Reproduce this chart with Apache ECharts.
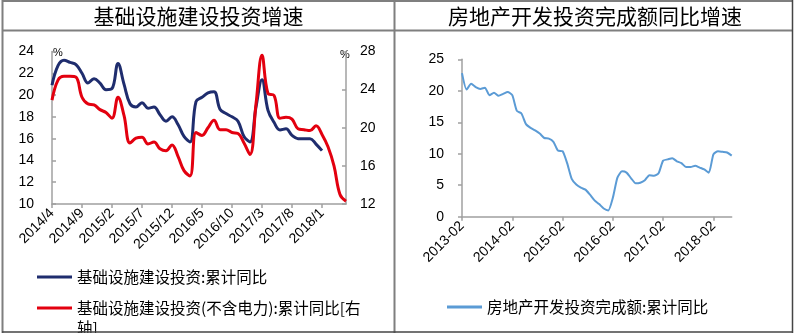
<!DOCTYPE html>
<html><head><meta charset="utf-8">
<script src="https://cdn.jsdelivr.net/npm/echarts@6/dist/echarts.min.js"></script>
<style>html,body{margin:0;padding:0;background:#fff}#c{width:797px;height:335px}</style>
</head><body><div id="c"></div>
<script>
const leftCategories = [
  '2014/4','2014/5','2014/6','2014/7','2014/8','2014/9','2014/10','2014/11','2014/12',
  '2015/1','2015/2','2015/3','2015/4','2015/5','2015/6','2015/7','2015/8','2015/9','2015/10','2015/11','2015/12',
  '2016/1','2016/2','2016/3','2016/4','2016/5','2016/6','2016/7','2016/8','2016/9','2016/10','2016/11','2016/12',
  '2017/1','2017/2','2017/3','2017/4','2017/5','2017/6','2017/7','2017/8','2017/9','2017/10','2017/11','2017/12',
  '2018/1','2018/2','2018/3','2018/4','2018/5'
];
const infraTotal = [
  20.9,22.7,23.2,23.0,22.8,22.0,21.1,21.5,21.1,
  20.5,20.6,22.9,21.0,19.2,18.9,19.3,18.8,18.9,18.2,17.6,18.0,
  17.3,16.2,15.7,19.4,19.8,20.2,20.3,18.7,18.3,18.0,17.6,16.2,
  15.7,18.9,21.4,18.6,17.5,16.8,16.9,16.3,16.0,16.0,16.0,15.5,
  14.9,null,null,null,null
];
const infraExPower = [
  22.9,25.0,25.4,25.4,25.3,23.2,22.5,22.4,21.9,
  21.6,21.0,23.2,21.3,18.4,18.9,19.0,18.3,18.5,17.8,17.6,18.2,
  17.0,15.5,14.95,19.5,19.2,20.0,20.8,19.8,19.8,19.5,19.4,18.4,
  17.2,22.5,27.6,23.6,23.4,21.0,21.1,20.9,19.9,19.8,19.7,20.2,
  19.3,18.0,16.0,13.0,12.3
];
const rightCategories = [
  '2013-02','2013-03','2013-04','2013-05','2013-06','2013-07','2013-08','2013-09','2013-10','2013-11','2013-12',
  '2014-02','2014-03','2014-04','2014-05','2014-06','2014-07','2014-08','2014-09','2014-10','2014-11','2014-12',
  '2015-02','2015-03','2015-04','2015-05','2015-06','2015-07','2015-08','2015-09','2015-10','2015-11','2015-12',
  '2016-02','2016-03','2016-04','2016-05','2016-06','2016-07','2016-08','2016-09','2016-10','2016-11','2016-12',
  '2017-02','2017-03','2017-04','2017-05','2017-06','2017-07','2017-08','2017-09','2017-10','2017-11','2017-12',
  '2018-02','2018-03','2018-04','2018-05','2018-06'
];
const realEstate = [
  22.8,20.2,21.1,20.6,20.3,20.5,19.3,19.7,19.2,19.5,19.8,
  19.3,16.8,16.4,14.7,14.1,13.7,13.2,12.5,12.4,11.9,10.5,
  10.4,8.5,6.0,5.1,4.6,4.3,3.5,2.6,2.0,1.3,1.0,
  3.0,6.2,7.2,7.0,6.1,5.3,5.4,5.8,6.6,6.5,6.9,
  8.9,9.1,9.3,8.8,8.5,7.9,7.9,8.1,7.8,7.5,7.0,
  9.9,10.4,10.3,10.2,9.7
];
const leftTitle = '基础设施建设投资增速';
const rightTitle = '房地产开发投资完成额同比增速';
const nameBlue = '基础设施建设投资:累计同比';
const nameRed = '基础设施建设投资(不含电力):累计同比[右轴]';
const nameRE = '房地产开发投资完成额:累计同比';

const NUM = "'Liberation Sans', Arial, sans-serif";
const CJK = "'Noto Sans CJK SC', sans-serif";
const axisGray = '#a0a0a0';
const frame = '#7f7f7f';

function yAx(grid, min, max, interval, pos, margin, tickInside) {
  return {
    type: 'value', gridIndex: grid, min, max, interval, position: pos,
    axisLine: {show: true, lineStyle: {color: axisGray, width: 1.5}},
    axisTick: {show: true, inside: tickInside, length: 4, lineStyle: {color: axisGray, width: 1.5}},
    splitLine: {show: false},
    axisLabel: {color: '#000', fontSize: 14, fontFamily: NUM, margin}
  };
}
function legendOf(name, left, top, color) {
  return {
    data: [name], left, top, padding: 0, orient: 'vertical', selectedMode: false,
    icon: 'rect', itemWidth: 35, itemHeight: 3,
    itemStyle: {color},
    textStyle: {fontSize: 15.5, lineHeight: 18, fontFamily: CJK, color: '#000'}
  };
}
// two-line legend: icon drawn at the height of the first text line
const redLegend = legendOf(nameRed, 37, 298, '#e3000f');
redLegend.icon = 'path://M0,0L0,0Z M0,8.5L35,8.5L35,11.5L0,11.5Z M35,40L35,40Z';
redLegend.itemHeight = 40;
redLegend.textStyle.lineHeight = 20;
redLegend.formatter = n => n.replace('[右轴]', '[右\n轴]');

const chart = echarts.init(document.getElementById('c'), null, {renderer: 'canvas'});
chart.setOption({
  animation: false,
  backgroundColor: '#fff',
  grid: [
    {left: 52, top: 51.5, width: 294, height: 152.5},
    {left: 462, top: 59.3, width: 269.7, height: 157.4}
  ],
  xAxis: [
    {type: 'category', gridIndex: 0, data: leftCategories, boundaryGap: false,
     axisLine: {lineStyle: {color: axisGray, width: 1.5}},
     axisTick: {interval: 4, length: 4, lineStyle: {color: axisGray, width: 1.5}},
     axisLabel: {interval: 4, rotate: 45, color: '#000', fontSize: 14, fontFamily: NUM, margin: 7}},
    {type: 'category', gridIndex: 1, data: rightCategories, boundaryGap: false,
     axisLine: {lineStyle: {color: axisGray, width: 1.5}},
     axisTick: {interval: 10, length: 4, lineStyle: {color: axisGray, width: 1.5}},
     axisLabel: {interval: 10, rotate: 45, color: '#000', fontSize: 14, fontFamily: NUM, margin: 7}}
  ],
  yAxis: [
    yAx(0, 10, 24, 2, 'left', 18, true),
    yAx(0, 12, 28, 4, 'right', 14, true),
    yAx(1, 0, 25, 5, 'left', 18, false)
  ],
  legend: [
    legendOf(nameBlue, 37, 268, '#1f2d6e'),
    redLegend,
    legendOf(nameRE, 447, 298, '#5b9bd5')
  ],
  series: [
    {name: nameBlue, type: 'line', xAxisIndex: 0, yAxisIndex: 0, data: infraTotal,
     smooth: 0.4, symbol: 'none', color: '#1f2d6e', lineStyle: {width: 3, color: '#1f2d6e'}},
    {name: nameRed, type: 'line', xAxisIndex: 0, yAxisIndex: 1, data: infraExPower,
     smooth: 0.4, symbol: 'none', color: '#e3000f', lineStyle: {width: 3, color: '#e3000f'}},
    {name: nameRE, type: 'line', xAxisIndex: 1, yAxisIndex: 2, data: realEstate,
     smooth: 0.2, symbol: 'none', color: '#5b9bd5', lineStyle: {width: 2, color: '#5b9bd5'}}
  ],
  graphic: [
    {type: 'text', x: 198.5, y: 16.5, style: {text: leftTitle, font: '21px ' + CJK, fill: '#000', align: 'center', verticalAlign: 'middle'}},
    {type: 'text', x: 595, y: 16.5, style: {text: rightTitle, font: '21px ' + CJK, fill: '#000', align: 'center', verticalAlign: 'middle'}},
    {type: 'text', x: 58, y: 53, style: {text: '%', font: '11px ' + NUM, fill: '#000', align: 'center', verticalAlign: 'middle'}},
    {type: 'text', x: 345, y: 55, style: {text: '%', font: '11px ' + NUM, fill: '#000', align: 'center', verticalAlign: 'middle'}},
    {type: 'line', z: 100, shape: {x1: 2, y1: 1, x2: 793, y2: 1}, style: {stroke: frame, lineWidth: 2}},
    {type: 'line', z: 100, shape: {x1: 2, y1: 30.5, x2: 793, y2: 30.5}, style: {stroke: frame, lineWidth: 2}},
    {type: 'line', z: 100, shape: {x1: 2.5, y1: 0, x2: 2.5, y2: 333}, style: {stroke: frame, lineWidth: 2}},
    {type: 'line', z: 100, shape: {x1: 394.5, y1: 0, x2: 394.5, y2: 333}, style: {stroke: frame, lineWidth: 2}},
    {type: 'line', z: 100, shape: {x1: 792.5, y1: 0, x2: 792.5, y2: 333}, style: {stroke: '#444', lineWidth: 1.5}},
    {type: 'line', z: 100, shape: {x1: 2, y1: 332, x2: 793, y2: 332}, style: {stroke: '#444', lineWidth: 1.5}},
    {type: 'rect', z: 99, shape: {x: 0, y: 333, width: 797, height: 2}, style: {fill: '#fff'}}
  ]
});
</script></body></html>
